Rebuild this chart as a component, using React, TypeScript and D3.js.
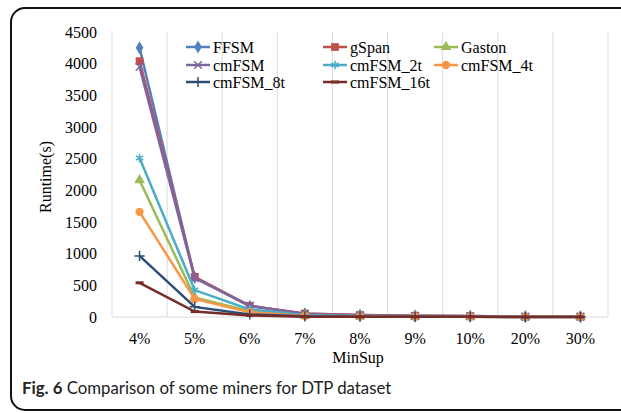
import React, { useEffect, useRef } from 'react';
import * as d3 from 'd3';

const categories = ['4%', '5%', '6%', '7%', '8%', '9%', '10%', '20%', '30%'];
const yTicks = [0, 500, 1000, 1500, 2000, 2500, 3000, 3500, 4000, 4500];

const ffsm = [4250, 625, 170, 50, 30, 20, 15, 5, 5];
const gspan = [4040, 635, 175, 55, 30, 20, 15, 5, 5];
const gaston = [2160, 310, 90, 20, 10, 5, 5, 2, 2];
const cmfsm = [3950, 615, 180, 45, 25, 15, 10, 5, 5];
const cmfsm2t = [2510, 425, 120, 30, 15, 10, 8, 3, 3];
const cmfsm4t = [1660, 285, 75, 15, 10, 5, 5, 2, 2];
const cmfsm8t = [965, 160, 40, 10, 5, 3, 3, 1, 1];
const cmfsm16t = [540, 85, 25, 5, 3, 2, 2, 1, 1];

const seriesNames = ['FFSM', 'gSpan', 'Gaston', 'cmFSM', 'cmFSM_2t', 'cmFSM_4t', 'cmFSM_8t', 'cmFSM_16t'];
const seriesValues = [ffsm, gspan, gaston, cmfsm, cmfsm2t, cmfsm4t, cmfsm8t, cmfsm16t];
const seriesColors = ['#4F81BD', '#C0504D', '#9BBB59', '#8064A2', '#4BACC6', '#F79646', '#2C4D75', '#772C2A'];
const seriesMarkers = ['diamond', 'square', 'triangle', 'x', 'asterisk', 'circle', 'plus', 'dash'];

const App = () => {
    const ref = useRef<SVGSVGElement>(null);

    useEffect(() => {
        const svg = d3.select(ref.current);
        svg.selectAll('*').remove();

        const margin = { top: 32, right: 13, bottom: 96, left: 112 };
        const width = 621, height = 413;
        const serif = '"Liberation Serif", "Times New Roman", serif';

        // figure frame
        svg.append('rect')
            .attr('x', 11).attr('y', 8)
            .attr('width', 660).attr('height', 402)
            .attr('rx', 14)
            .attr('fill', 'none').attr('stroke', '#111').attr('stroke-width', 2);

        const x = d3.scaleBand().domain(categories).range([margin.left, width - margin.right]);
        const y = d3.scaleLinear().domain([0, 4500]).range([height - margin.bottom, margin.top]);

        // vertical grid lines at category boundaries
        const bounds = categories.map((c) => x(c) as number).concat([x.range()[1]]);
        svg.append('g').selectAll('line').data(bounds).enter().append('line')
            .attr('x1', (d) => d).attr('x2', (d) => d)
            .attr('y1', y(4500)).attr('y2', y(0))
            .attr('stroke', '#d9d9d9').attr('stroke-width', 1);

        svg.append('line')
            .attr('x1', x.range()[0]).attr('x2', x.range()[1])
            .attr('y1', y(0)).attr('y2', y(0))
            .attr('stroke', '#d9d9d9').attr('stroke-width', 1);

        // y tick labels
        svg.append('g').selectAll('text').data(yTicks).enter().append('text')
            .attr('x', 97).attr('y', (d) => y(d))
            .attr('dy', '0.35em').attr('text-anchor', 'end')
            .attr('font-family', serif).attr('font-size', 16)
            .text((d) => String(d));

        // x tick labels
        svg.append('g').selectAll('text').data(categories).enter().append('text')
            .attr('x', (d) => (x(d) as number) + x.bandwidth() / 2).attr('y', 344)
            .attr('text-anchor', 'middle')
            .attr('font-family', serif).attr('font-size', 16)
            .text((d) => d);

        svg.append('text')
            .attr('x', 358).attr('y', 363).attr('text-anchor', 'middle')
            .attr('font-family', serif).attr('font-size', 16)
            .text('MinSup');

        svg.append('text')
            .attr('transform', 'translate(51,177) rotate(-90)').attr('text-anchor', 'middle')
            .attr('font-family', serif).attr('font-size', 16)
            .text('Runtime(s)');

        const symbolFor = (m) => {
            if (m === 'diamond') return d3.symbol(d3.symbolDiamond, 50)();
            if (m === 'square') return d3.symbol(d3.symbolSquare, 60)();
            if (m === 'triangle') return d3.symbol(d3.symbolTriangle, 50)();
            if (m === 'x') return d3.symbol(d3.symbolX, 40)();
            if (m === 'asterisk') return d3.symbol(d3.symbolAsterisk, 50)();
            if (m === 'circle') return d3.symbol(d3.symbolCircle, 55)();
            if (m === 'plus') return d3.symbol(d3.symbolPlus, 36)();
            return 'M-4,0L4,0';
        };
        const stroked = (m) => m === 'x' || m === 'asterisk' || m === 'plus' || m === 'dash';

        const drawMarker = (g, m, color, cx, cy) => {
            const p = g.append('path').attr('d', symbolFor(m)).attr('transform', `translate(${cx},${cy})`);
            if (stroked(m)) p.attr('fill', 'none').attr('stroke', color).attr('stroke-width', m === 'dash' ? 3 : 1.5);
            else p.attr('fill', color);
        };

        const line = d3.line<number>()
            .x((d, i) => (x(categories[i]) as number) + x.bandwidth() / 2)
            .y((d) => y(d));

        seriesValues.forEach((vals, s) => {
            const g = svg.append('g');
            g.append('path').datum(vals).attr('d', line)
                .attr('fill', 'none').attr('stroke', seriesColors[s]).attr('stroke-width', 2.5);
            vals.forEach((v, i) => {
                drawMarker(g, seriesMarkers[s], seriesColors[s], (x(categories[i]) as number) + x.bandwidth() / 2, y(v));
            });
        });

        // legend
        const colX = [186, 323, 434];
        const rowY = [47, 65, 82];
        seriesNames.forEach((name, s) => {
            const lx = colX[s % 3], ly = rowY[Math.floor(s / 3)];
            const g = svg.append('g');
            g.append('line').attr('x1', lx).attr('x2', lx + 24).attr('y1', ly).attr('y2', ly)
                .attr('stroke', seriesColors[s]).attr('stroke-width', 2.5);
            drawMarker(g, seriesMarkers[s], seriesColors[s], lx + 12, ly);
            g.append('text').attr('x', lx + 27).attr('y', ly).attr('dy', '0.35em')
                .attr('font-family', serif).attr('font-size', 16)
                .text(name);
        });

        // caption
        const cap = svg.append('text').attr('x', 22).attr('y', 394)
            .attr('font-family', 'Lato, "Noto Sans", sans-serif').attr('font-size', 16.8).attr('fill', '#222');
        cap.append('tspan').attr('font-weight', 'bold').text('Fig. 6');
        cap.append('tspan').text(' Comparison of some miners for DTP dataset');
    }, []);

    return <svg ref={ref} width={621} height={413} style={{ position: 'absolute', left: 0, top: 0 }} />;
};

export default App;
